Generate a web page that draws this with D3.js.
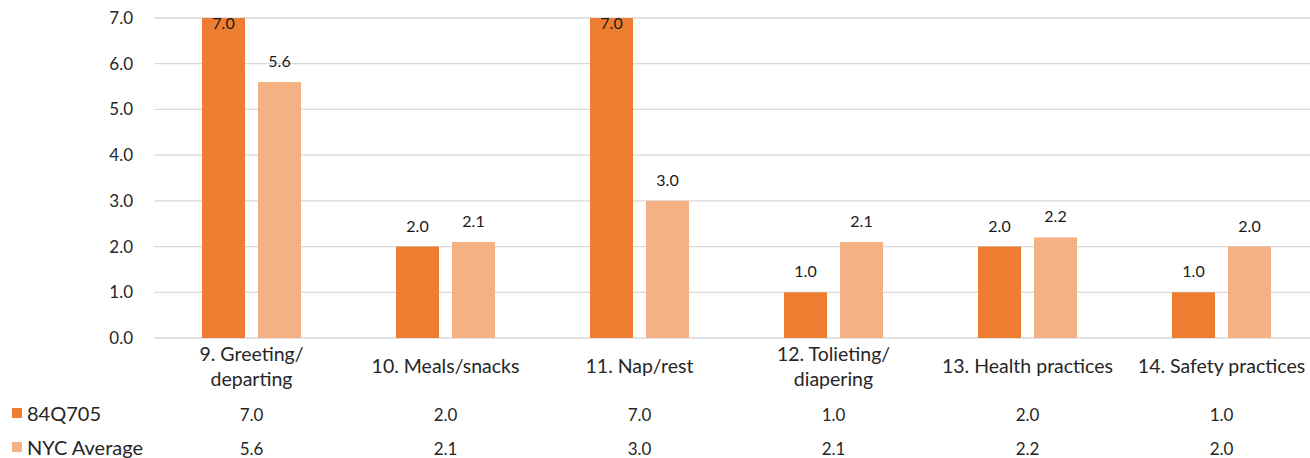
<!DOCTYPE html>
<html>
<head>
<meta charset="utf-8">
<script src="https://cdn.jsdelivr.net/npm/d3@7"></script>
<style>
  html, body { margin: 0; padding: 0; background: #fff; }
  svg { display: block; font-family: Lato, "Open Sans", sans-serif; }
</style>
</head>
<body>
<svg id="chart" width="1310" height="458"></svg>
<script>
// Category labels (line breaks marked with \n)
const categories = [
  "9. Greeting/\ndeparting",
  "10. Meals/snacks",
  "11. Nap/rest",
  "12. Tolieting/\ndiapering",
  "13. Health practices",
  "14. Safety practices"
];
const seriesNames = ["84Q705", "NYC Average"];
const siteValues = [7.0, 2.0, 7.0, 1.0, 2.0, 1.0];
const nycValues = [5.6, 2.1, 3.0, 2.1, 2.2, 2.0];
const yTicks = [0, 1, 2, 3, 4, 5, 6, 7];
const colors = ["#ED7D31", "#F4B183"];

const series = [siteValues, nycValues];

const svg = d3.select("#chart");
const plotLeft = 154.5, plotRight = 1318.5, plotTop = 18, plotBottom = 338;

const x = d3.scaleBand().domain(categories).range([plotLeft, plotRight]);
const xInner = d3.scaleBand().domain([0, 1]).range([47.5, 146.5]).paddingInner(13 / 56);
const y = d3.scaleLinear().domain([0, 7]).range([plotBottom, plotTop]);
const fmt = d3.format(".1f");

// gridlines
svg.append("g")
  .selectAll("line")
  .data(yTicks)
  .join("line")
  .attr("x1", plotLeft).attr("x2", 1310)
  .attr("y1", d => y(d)).attr("y2", d => y(d))
  .attr("stroke", "#d9d9d9").attr("stroke-width", 1.3);

// y axis labels
const yAxis = d3.axisLeft(y).tickValues(yTicks).tickFormat(fmt).tickSize(0).tickPadding(0);
const yg = svg.append("g").attr("transform", "translate(133,0)").call(yAxis);
yg.select(".domain").remove();
yg.selectAll("text").attr("font-size", 17).attr("fill", "#262626").attr("font-family", "Lato, sans-serif");

// bars with value labels
series.forEach((vals, si) => {
  const g = svg.append("g");
  g.selectAll("rect")
    .data(vals)
    .join("rect")
    .attr("x", (d, i) => x(categories[i]) + xInner(si))
    .attr("width", xInner.bandwidth())
    .attr("y", d => y(d))
    .attr("height", d => y(0) - y(d))
    .attr("fill", colors[si]);
  g.selectAll("text")
    .data(vals)
    .join("text")
    .attr("x", (d, i) => x(categories[i]) + xInner(si) + xInner.bandwidth() / 2)
    .attr("y", d => Math.max(y(d) - 15, 29))
    .attr("text-anchor", "middle")
    .attr("font-size", 16)
    .attr("fill", "#1a1a1a")
    .text(d => fmt(d));
});

// category labels
const catG = svg.append("g");
categories.forEach(c => {
  const lines = c.split("\n");
  const cx = x(c) + x.bandwidth() / 2;
  const t = catG.append("text")
    .attr("x", cx)
    .attr("text-anchor", "middle")
    .attr("font-size", 19.5)
    .attr("fill", "#262626");
  const startY = lines.length === 1 ? 373 : 361;
  lines.forEach((ln, i) => {
    t.append("tspan").attr("x", cx).attr("y", startY + i * 25).text(ln);
  });
});

// data table with legend keys
const rowY = [421, 455];
series.forEach((vals, si) => {
  svg.append("rect")
    .attr("x", 12).attr("y", rowY[si] - 13)
    .attr("width", 10).attr("height", 10)
    .attr("fill", colors[si]);
  svg.append("text")
    .attr("x", 27).attr("y", rowY[si])
    .attr("font-size", 20).attr("fill", "#262626")
    .text(seriesNames[si]);
  svg.append("g").selectAll("text")
    .data(vals)
    .join("text")
    .attr("x", (d, i) => x(categories[i]) + x.bandwidth() / 2)
    .attr("y", rowY[si])
    .attr("text-anchor", "middle")
    .attr("font-size", 17)
    .attr("fill", "#262626")
    .text(d => fmt(d));
});
</script>
</body>
</html>
